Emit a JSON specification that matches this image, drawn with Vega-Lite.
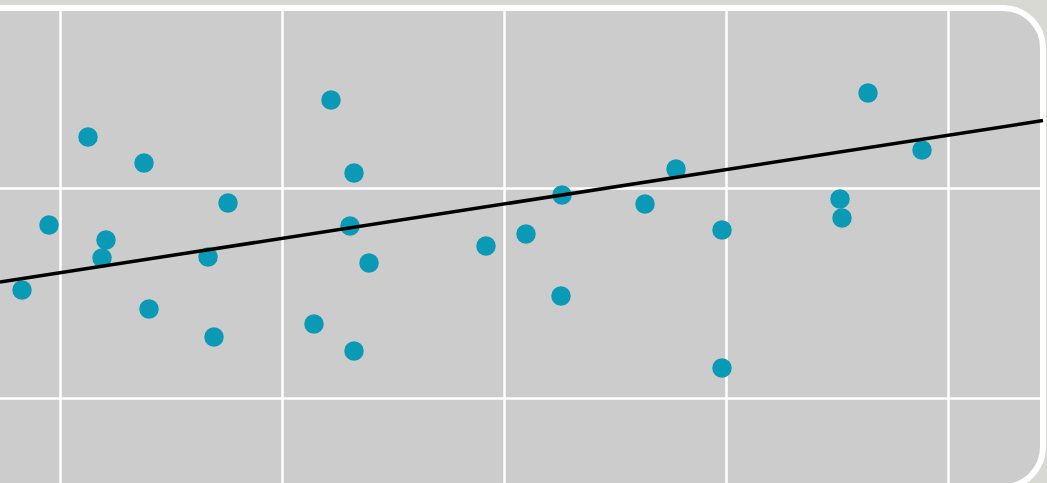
{
  "$schema": "https://vega.github.io/schema/vega-lite/v6.json",
  "width": 1083,
  "height": 479,
  "autosize": {"type": "none"},
  "padding": {"left": -40, "top": 8, "right": 4, "bottom": -4},
  "background": "#d8d9d3",
  "config": {
    "view": {"fill": "#cccccc", "stroke": "#ffffff", "strokeWidth": 6, "cornerRadius": 40}
  },
  "datasets": {
    "points": [
      {"x": 0.8288, "y": 1.5143},
      {"x": 0.9505, "y": 1.8238},
      {"x": 1.1261, "y": 2.2429},
      {"x": 1.2072, "y": 1.7524},
      {"x": 1.1892, "y": 1.6667},
      {"x": 1.3784, "y": 2.1190},
      {"x": 1.4009, "y": 1.4238},
      {"x": 1.6667, "y": 1.6714},
      {"x": 1.7568, "y": 1.9286},
      {"x": 1.6937, "y": 1.2905},
      {"x": 2.2207, "y": 2.4190},
      {"x": 2.3243, "y": 2.0714},
      {"x": 2.3063, "y": 1.8190},
      {"x": 2.3919, "y": 1.6429},
      {"x": 2.1441, "y": 1.3524},
      {"x": 2.3243, "y": 1.2238},
      {"x": 2.9189, "y": 1.7238},
      {"x": 3.0991, "y": 1.7810},
      {"x": 3.2613, "y": 1.9667},
      {"x": 3.2568, "y": 1.4857},
      {"x": 3.6351, "y": 1.9238},
      {"x": 3.7748, "y": 2.0905},
      {"x": 3.9820, "y": 1.8000},
      {"x": 3.9820, "y": 1.1429},
      {"x": 4.5135, "y": 1.9476},
      {"x": 4.5225, "y": 1.8571},
      {"x": 4.6396, "y": 2.4524},
      {"x": 4.8829, "y": 2.1810}
    ],
    "fit": [
      {"x": 0.7297, "y": 1.5524},
      {"x": 5.4279, "y": 2.3210}
    ]
  },
  "layer": [
    {
      "data": {"name": "points"},
      "mark": {"type": "point", "filled": true, "shape": "circle", "size": 380, "color": "#0a9ab6", "opacity": 1},
      "encoding": {
        "x": {"field": "x", "type": "quantitative", "scale": {"domain": [0.5495, 5.4279], "nice": false, "zero": false},
          "axis": {"values": [1, 2, 3, 4, 5], "labels": false, "ticks": false, "domain": false, "title": null, "grid": true, "gridColor": "#ffffff", "gridWidth": 2.5, "gridOpacity": 1}},
        "y": {"field": "y", "type": "quantitative", "scale": {"domain": [0.5762, 2.8571], "nice": false, "zero": false},
          "axis": {"values": [1, 2], "labels": false, "ticks": false, "domain": false, "title": null, "grid": true, "gridColor": "#ffffff", "gridWidth": 2.5, "gridOpacity": 1}}
      }
    },
    {
      "data": {"name": "fit"},
      "mark": {"type": "line", "color": "#000000", "strokeWidth": 3.5},
      "encoding": {
        "x": {"field": "x", "type": "quantitative"},
        "y": {"field": "y", "type": "quantitative"}
      }
    }
  ]
}
